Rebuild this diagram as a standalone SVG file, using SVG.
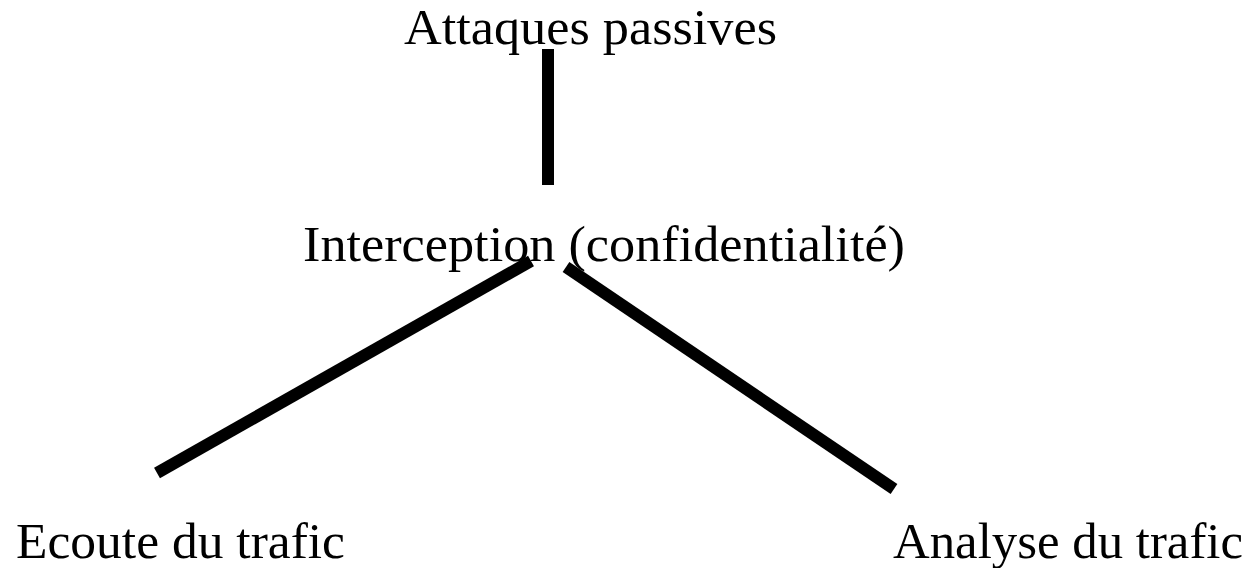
<svg xmlns="http://www.w3.org/2000/svg" width="1257" height="568" viewBox="0 0 1257 568">
  <style>
    .label { font-family: "Liberation Serif", "DejaVu Serif", serif; font-size: 51px; fill: #000; }
    .edge { stroke: #000; stroke-width: 12; fill: none; }
  </style>
  <rect width="1257" height="568" fill="#fff"/>
  <g id="connectors">
    <line class="edge" x1="548" y1="49" x2="548" y2="185"/>
    <line class="edge" x1="531" y1="261" x2="157" y2="473"/>
    <line class="edge" x1="566" y1="267" x2="894" y2="489"/>
  </g>
  <g id="node-attaques">
    <text class="label" x="404" y="44" textLength="373" lengthAdjust="spacingAndGlyphs">Attaques passives</text>
  </g>
  <g id="node-interception">
    <text class="label" x="303" y="261" textLength="602" lengthAdjust="spacingAndGlyphs">Interception (confidentialité)</text>
  </g>
  <g id="node-ecoute">
    <text class="label" x="16" y="558" textLength="329" lengthAdjust="spacingAndGlyphs">Ecoute du trafic</text>
  </g>
  <g id="node-analyse">
    <text class="label" x="893" y="558" textLength="350" lengthAdjust="spacingAndGlyphs">Analyse du trafic</text>
  </g>
</svg>
